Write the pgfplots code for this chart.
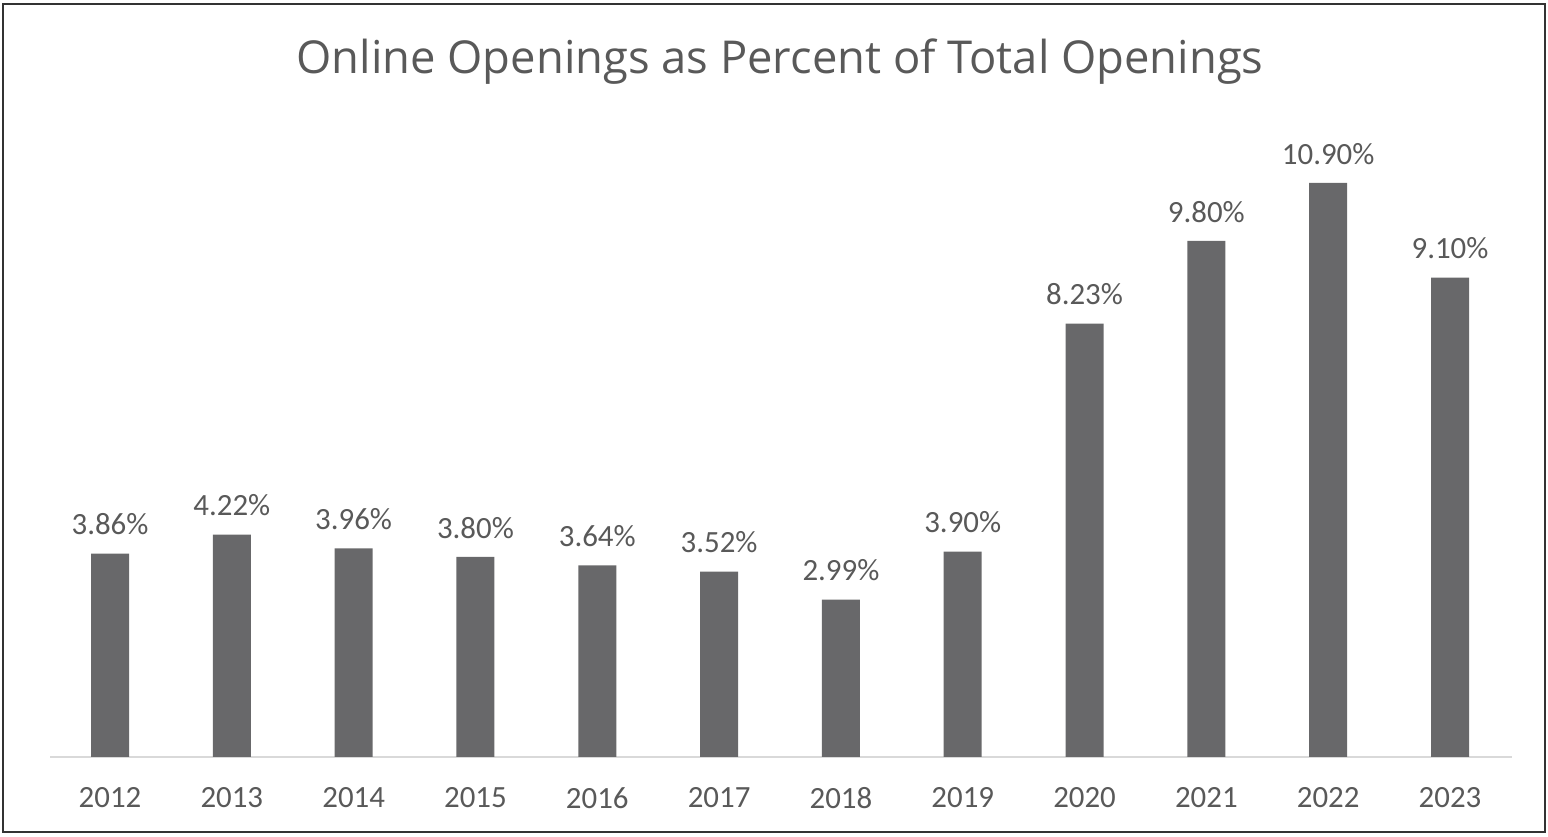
\documentclass[border=0pt]{standalone}
\usepackage{pgfplots}
\pgfplotsset{compat=1.18}
\usepackage{fontspec}
\setmainfont{Carlito}
\newfontfamily\titlefont{Open Sans}
\definecolor{barcol}{HTML}{68686A}
\definecolor{txtcol}{HTML}{595959}
\definecolor{basecol}{HTML}{D9D9D9}
\begin{document}
\begin{tikzpicture}[x=1bp,y=1bp]
\path[use as bounding box] (0,0) rectangle (1548,836);
\draw[line width=2.5bp,color=black!80] (3,4) rectangle (1545,832);
\node[txtcol,font=\titlefont\fontsize{45.5}{52}\selectfont] at (780,774) {Online Openings as Percent of Total Openings};
\begin{axis}[
  at={(50bp,79bp)}, anchor=south west,
  scale only axis, width=1462bp, height=632bp,
  xmin=-0.4926, xmax=11.509, ymin=0, ymax=12,
  axis x line*=bottom, axis y line=none,
  x axis line style={basecol,line width=1.5bp,-},
  xtick=data, major tick length=0pt,
  xticklabels={2012,2013,2014,2015,2016,2017,2018,2019,2020,2021,2022,2023},
  xticklabel style={txtcol,font=\fontsize{31}{36}\selectfont,yshift=-27bp},
  /pgf/number format/assume math mode=true,
  ybar, bar width=38bp, bar shift=0pt,
  nodes near coords={\pgfmathprintnumber[fixed,fixed zerofill,precision=2]{\pgfplotspointmeta}\%},
  nodes near coords style={txtcol,font=\fontsize{31}{36}\selectfont,anchor=south,yshift=15bp},
  clip=false,
]
\addplot[fill=barcol,draw=none] coordinates {
(0,3.86) (1,4.22) (2,3.96) (3,3.80) (4,3.64) (5,3.52)
(6,2.99) (7,3.90) (8,8.23) (9,9.80) (10,10.90) (11,9.10)};
\end{axis}
\end{tikzpicture}
\end{document}
